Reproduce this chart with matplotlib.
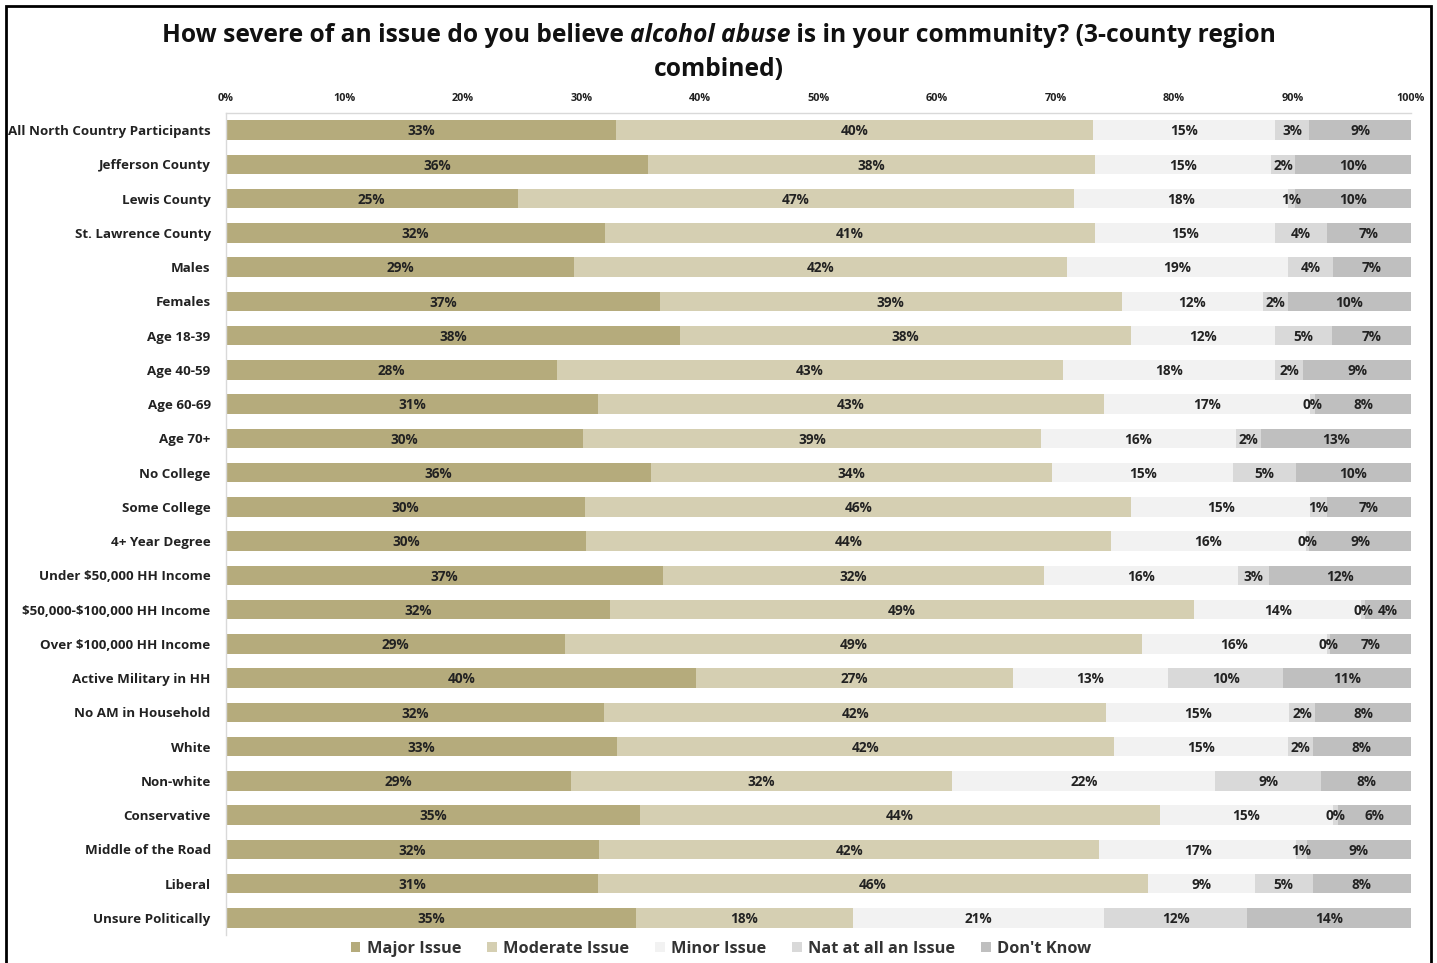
import matplotlib
matplotlib.use('Agg')
import matplotlib.pyplot as plt
from matplotlib.patches import Rectangle
import numpy as np

categories = ['All North Country Participants', 'Jefferson County', 'Lewis County',
              'St. Lawrence County', 'Males', 'Females', 'Age 18-39', 'Age 40-59',
              'Age 60-69', 'Age 70+', 'No College', 'Some College', '4+ Year Degree',
              'Under $50,000 HH Income', '$50,000-$100,000 HH Income',
              'Over $100,000 HH Income', 'Active Military in HH', 'No AM in Household',
              'White', 'Non-white', 'Conservative', 'Middle of the Road', 'Liberal',
              'Unsure Politically']
major      = [32.9, 35.6, 24.6, 32.0, 29.4, 36.6, 38.3, 27.9, 31.4, 30.1, 35.9, 30.3, 30.4,
              36.9, 32.4, 28.6, 39.7, 31.9, 33.0, 29.1, 34.9, 31.5, 31.4, 34.6]
moderate   = [40.3, 37.7, 47.0, 41.3, 41.6, 39.0, 38.1, 42.7, 42.7, 38.7, 33.8, 46.1, 44.3,
              32.1, 49.3, 48.7, 26.7, 42.4, 41.9, 32.2, 43.9, 42.2, 46.4, 18.3]
minor      = [15.3, 14.9, 18.0, 15.2, 18.6, 11.9, 12.1, 17.9, 17.4, 16.4, 15.3, 15.1, 16.4,
              16.4, 14.1, 15.6, 13.1, 15.4, 14.7, 22.2, 14.6, 16.6, 9.0, 21.2]
not_at_all = [2.9, 2.0, 0.6, 4.4, 3.8, 2.1, 4.8, 2.4, 0.4, 2.1, 5.3, 1.4, 0.3,
              2.6, 0.3, 0.3, 9.7, 2.2, 2.1, 8.9, 0.4, 0.9, 4.9, 12.1]
dont_know  = [8.6, 9.8, 9.8, 7.1, 6.6, 10.4, 6.7, 9.1, 8.1, 12.7, 9.7, 7.1, 8.6,
              12.0, 3.9, 6.8, 10.8, 8.1, 8.3, 7.6, 6.2, 8.8, 8.3, 13.8]
series_names = ['Major Issue', 'Moderate Issue', 'Minor Issue', 'Nat at all an Issue', "Don't Know"]
x_ticks = [0, 10, 20, 30, 40, 50, 60, 70, 80, 90, 100]

colors = ['#B5AB7C', '#D5CFB2', '#F2F2F2', '#D9D9D9', '#BFBFBF']

plt.rcParams['font.family'] = ['Open Sans', 'DejaVu Sans']
plt.rcParams['text.parse_math'] = False

W, H = 1437, 963
fig = plt.figure(figsize=(W / 100, H / 100), dpi=100)
fig.patch.set_facecolor('white')

ax = fig.add_axes([226 / W, 1 - 935 / H, (1411 - 226) / W, (935 - 113) / H])
yy = np.arange(len(categories))
left = np.zeros(len(categories))
for name, vals, c in zip(series_names, [major, moderate, minor, not_at_all, dont_know], colors):
    vals = np.array(vals, dtype=float)
    ax.barh(yy, vals, left=left, height=0.57, color=c, label=name, linewidth=0)
    for yi, l, v in zip(yy, left, vals):
        ax.text(l + v / 2, yi + 0.04, f'{v:.0f}%', ha='center', va='center',
                fontsize=9.8, fontweight='bold', color='#222222')
    left += vals

ax.set_xlim(0, 100)
ax.set_ylim(len(categories) - 0.5, -0.5)
ax.xaxis.tick_top()
ax.set_xticks(x_ticks)
ax.set_xticklabels([f'{t}%' for t in x_ticks], fontsize=7.8, fontweight='bold', color='#222222')
ax.set_yticks(yy)
ax.set_yticklabels(categories, fontsize=9.6, fontweight='bold', color='#222222')
ax.tick_params(axis='x', length=0, pad=6.5)
ax.tick_params(axis='y', length=0, pad=11)
for s in ['right', 'bottom']:
    ax.spines[s].set_visible(False)
for s in ['top', 'left']:
    ax.spines[s].set_color('#D9D9D9')
    ax.spines[s].set_linewidth(1.0)

# legend
handles, labels = ax.get_legend_handles_labels()
leg = fig.legend(handles, labels, loc='center', bbox_to_anchor=(721 / W, 1 - 949 / H),
                 ncol=5, frameon=False, handlelength=0.6, handleheight=0.6,
                 handletextpad=0.4, columnspacing=1.55,
                 prop={'size': 11.8, 'weight': 'bold'})
for t in leg.get_texts():
    t.set_color('#333333')

# title with italic part
renderer = fig.canvas.get_renderer()
pieces = [("How severe of an issue do you believe ", 'normal'),
          ("alcohol abuse", 'italic'),
          (" is in your community? (3-county region", 'normal')]
texts = []
widths = []
for s, st in pieces:
    t = fig.text(0, 1 - 35 / H, s, fontsize=17.7, fontweight='bold', style=st,
                 ha='left', va='center', color='#111111')
    texts.append(t)
    widths.append(t.get_window_extent(renderer).width)
total = sum(widths)
x0 = 719 - total / 2
for t, w in zip(texts, widths):
    t.set_x(x0 / W)
    x0 += w
fig.text(719 / W, 1 - 69 / H, 'combined)', fontsize=17.7, fontweight='bold',
         ha='center', va='center', color='#111111')

# outer frame
fig.patches.append(Rectangle((6 / W, -0.05), (1431 - 6) / W, 1.05 - 6 / H,
                             transform=fig.transFigure, fill=False,
                             edgecolor='black', linewidth=2))

fig.savefig('out.png', dpi=100)
